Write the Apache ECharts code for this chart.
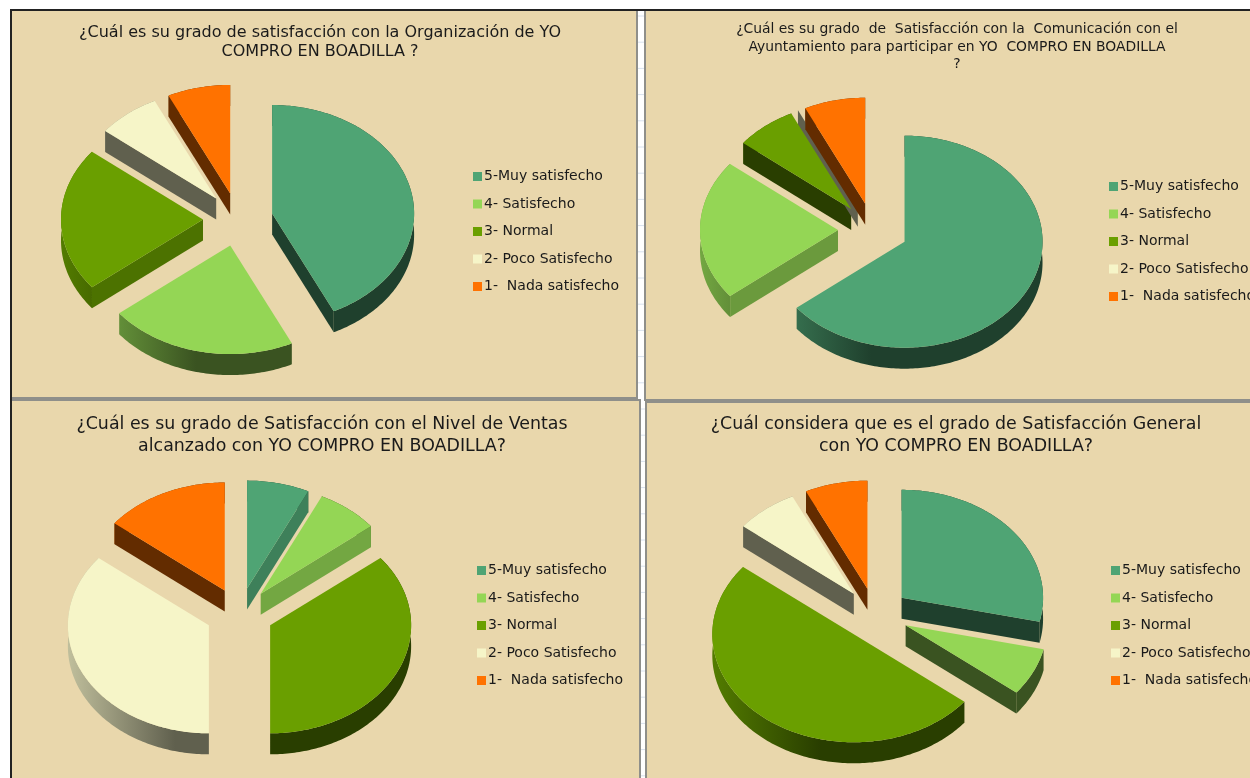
<!DOCTYPE html>
<html><head><meta charset="utf-8">
<style>html,body{margin:0;padding:0;background:#fff}#c{width:1250px;height:778px}</style>
<script src="https://cdn.jsdelivr.net/npm/echarts@6/dist/echarts.min.js"></script>
</head><body><div id="c"></div>
<script>
// ---- data (number of answers) ----
const categories = ['5-Muy satisfecho','4- Satisfecho','3- Normal','2- Poco Satisfecho','1-  Nada satisfecho'];
const organizacion = [6,3,3,1,1];
const comunicacion = [9,3,1,0,1];
const ventas       = [1,1,5,5,2];
const general      = [4,1,7,1,1];
const titleOrganizacion = '¿Cuál es su grado de satisfacción con la Organización de YO\nCOMPRO EN BOADILLA ?';
const titleComunicacion = '¿Cuál es su grado  de  Satisfacción con la  Comunicación con el\nAyuntamiento para participar en YO  COMPRO EN BOADILLA\n?';
const titleVentas  = '¿Cuál es su grado de Satisfacción con el Nivel de Ventas\nalcanzado con YO COMPRO EN BOADILLA?';
const titleGeneral = '¿Cuál considera que es el grado de Satisfacción General\ncon YO COMPRO EN BOADILLA?';
const colors = ['#4FA474','#94D655','#6A9F00','#F6F5C8','#FF7200'];

// ---- layout ----
const panels = [
 {values:organizacion,title:titleOrganizacion,tx:320,ty:23,fs:16,lh:19.5,cx:238,cy:219.5,rx:142,ry:108.5,e:35,d:21,lx:473,ly:169.5},
 {values:comunicacion,title:titleComunicacion,tx:957,ty:21,fs:13.9,lh:17.5,cx:873,cy:230,rx:138,ry:106,e:35,d:21,lx:1109,ly:179.5},
 {values:ventas,title:titleVentas,tx:322,ty:413,fs:17.4,lh:22,cx:239.5,cy:614,rx:141,ry:108,e:34,d:21,lx:477,ly:563.5},
 {values:general,title:titleGeneral,tx:956,ty:413,fs:17.4,lh:22,cx:875,cy:614,rx:141.5,ry:108,e:34,d:21,lx:1111,ly:563.5}
];
const rects = [[11,10,626,388],[645,10,620,390],[11,400,629,390],[646,402,620,390]];

function shade(hex,f){
  const n=parseInt(hex.slice(1),16);
  const c=[n>>16&255,n>>8&255,n&255].map(v=>Math.round(v*f));
  return 'rgb('+c.join(',')+')';
}
function faceFactor(deg){
  deg=((deg%360)+360)%360;
  if(deg<90) return .78;
  if(deg<=200) return .39;
  if(deg<270) return .72;
  return .39;
}
const rad=d=>d*Math.PI/180;

function sliceRender(panel,idx){
  const total=panel.values.reduce((a,b)=>a+b,0);
  const before=panel.values.slice(0,idx).reduce((a,b)=>a+b,0);
  return function(params,api){
    const v=api.value(0);
    const a0=before/total*360, a1=(before+v)/total*360, mid=(a0+a1)/2;
    const k=panel.ry/panel.rx;
    const ax=panel.cx+panel.e*Math.sin(rad(mid));
    const ay=panel.cy-panel.e*k*Math.cos(rad(mid));
    const pt=(t,dz)=>[ax+panel.rx*Math.sin(rad(t)),ay-panel.ry*Math.cos(rad(t))+dz];
    const col=colors[idx];
    const arc=[];
    const n=Math.max(1,Math.ceil(a1-a0));
    for(let i=0;i<=n;i++) arc.push(a0+(a1-a0)*i/n);
    const children=[];
    const face=(t,z)=>{
      const r=pt(t,0);
      children.push({type:'polygon',z2:z,shape:{points:[[ax,ay],r,[r[0],r[1]+panel.d],[ax,ay+panel.d]]},
        style:{fill:shade(col,faceFactor(t))}});
    };
    if(v>0){
      const band=arc.map(t=>pt(t,0)).concat(arc.slice().reverse().map(t=>pt(t,panel.d)));
      children.push({type:'polygon',z2:10+idx,shape:{points:band},style:{fill:{
        type:'linear',global:true,x:ax-panel.rx,y:0,x2:ax+panel.rx,y2:0,
        colorStops:[{offset:0,color:shade(col,.78)},{offset:.38,color:shade(col,.39)},{offset:1,color:shade(col,.39)}]}}});
    }
    // only the radial cut faces turned towards the viewer are drawn
    if(Math.sin(rad(a0))<-0.001) face(a0,20+idx);
    if(v>0 && Math.sin(rad(a1))>0.001) face(a1,20+idx);
    if(v>0){
      children.push({type:'polygon',z2:100,shape:{points:[[ax,ay]].concat(arc.map(t=>pt(t,0)))},style:{fill:col}});
    }
    return {type:'group',children};
  };
}

const series=[];
panels.forEach(p=>{
  categories.forEach((name,i)=>{
    series.push({type:'custom',name,coordinateSystem:'none',silent:true,animation:false,
      itemStyle:{color:colors[i]},data:[[p.values[i]]],renderItem:sliceRender(p,i),clip:false});
  });
});

const graphic=[];
for(let y=16;y<778;y+=26.2){
  graphic.push({type:'line',shape:{x1:638,y1:y,x2:646,y2:y},style:{stroke:'#d9e2ee',lineWidth:1}});
}
rects.forEach((r,i)=>{
  graphic.push({type:'rect',shape:{x:r[0],y:r[1],width:r[2],height:r[3]},style:{fill:'#E9D7AC',stroke:'#8f8f8a',lineWidth:2}});
});
graphic.push({type:'line',shape:{x1:10,y1:10,x2:1250,y2:10},style:{stroke:'#222',lineWidth:2}});
graphic.push({type:'line',shape:{x1:11,y1:10,x2:11,y2:778},style:{stroke:'#222',lineWidth:2}});

const chart=echarts.init(document.getElementById('c'),null,{renderer:'canvas'});
chart.setOption({
  backgroundColor:'#ffffff',animation:false,
  title:panels.map(p=>({text:p.title,left:p.tx,top:p.ty,textAlign:'center',padding:0,
    textStyle:{fontFamily:'DejaVu Sans',fontSize:p.fs,fontWeight:'normal',color:'#1a1a1a',lineHeight:p.lh}})),
  legend:panels.map(p=>({data:categories,orient:'vertical',left:p.lx,top:p.ly,padding:0,icon:'rect',
    itemWidth:9,itemHeight:9,itemGap:13.5,selectedMode:false,
    textStyle:{fontFamily:'DejaVu Sans',fontSize:14,color:'#1a1a1a',lineHeight:14,padding:[0,0,0,-3]}})),
  graphic:{elements:graphic},
  series
});
</script></body></html>
